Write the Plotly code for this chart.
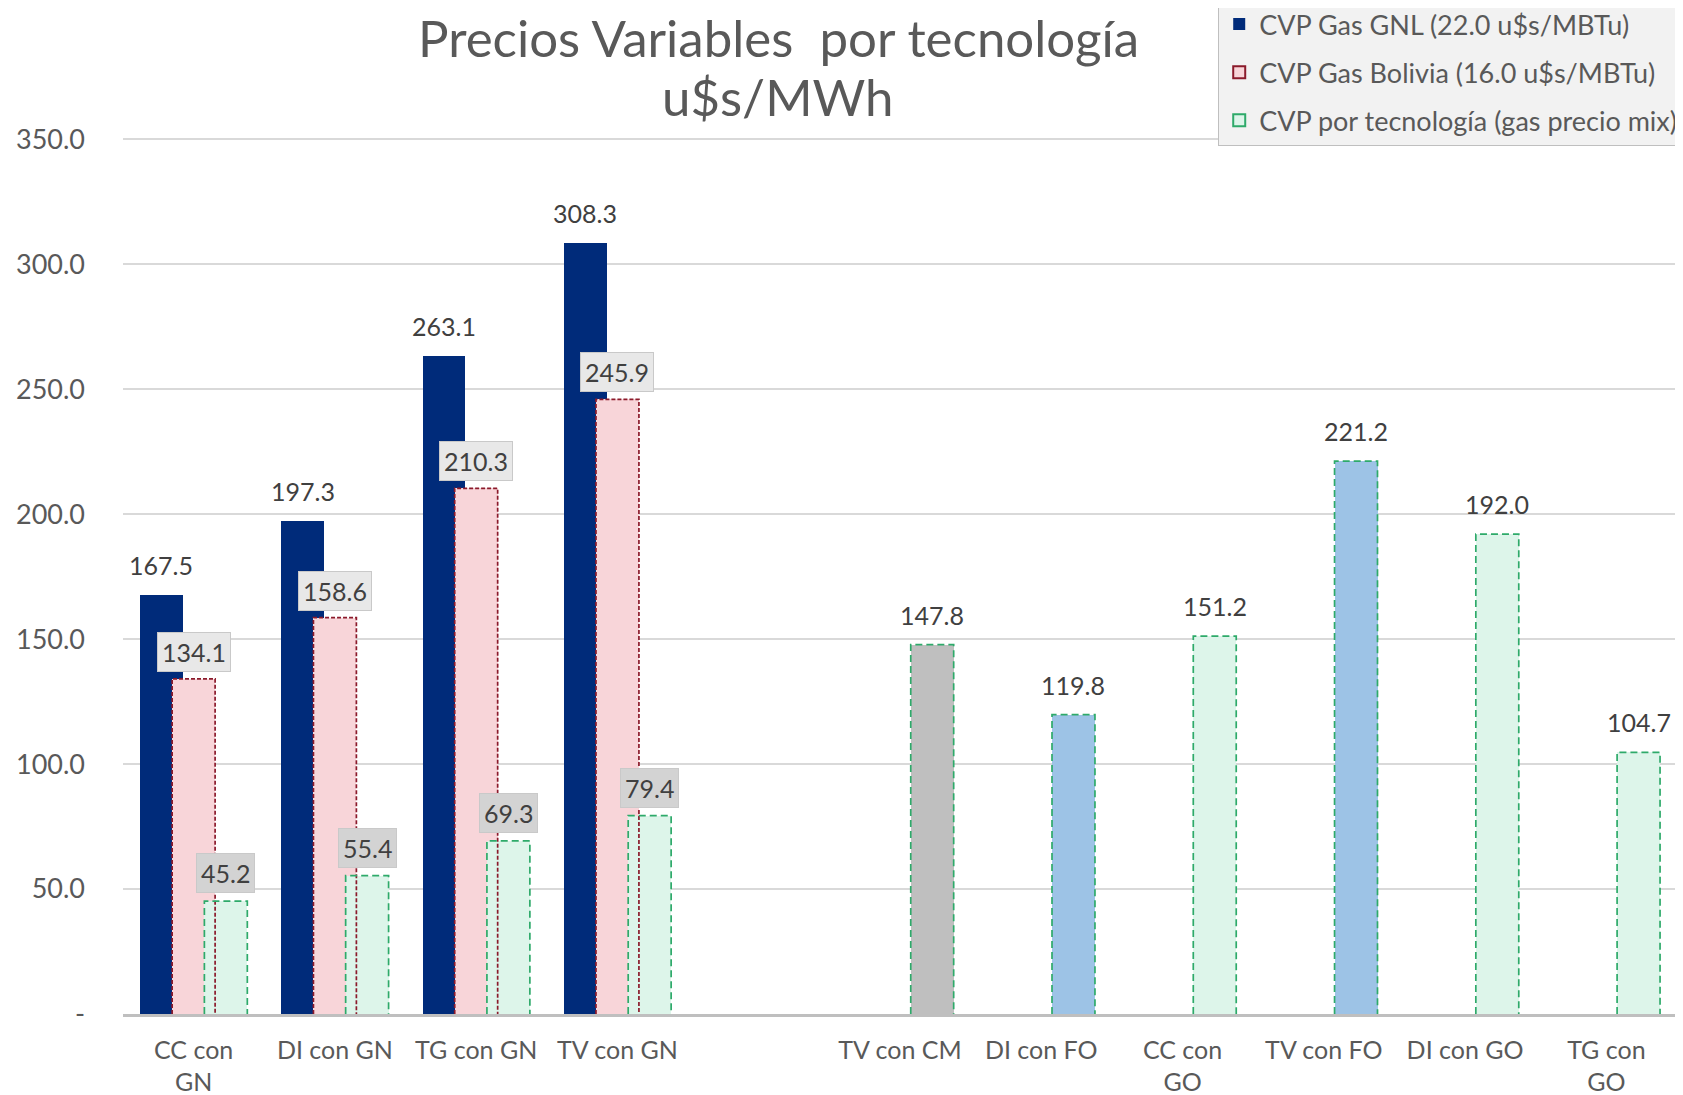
import plotly.graph_objects as go

categories = ["CC con<br>GN", "DI con GN", "TG con GN", "TV con GN", "",
              "TV con CM", "DI con FO", "CC con<br>GO", "TV con FO", "DI con GO", "TG con<br>GO"]
gnl = [167.5, 197.3, 263.1, 308.3, None, None, None, None, None, None, None]
bolivia = [134.1, 158.6, 210.3, 245.9, None, None, None, None, None, None, None]
mix = [45.2, 55.4, 69.3, 79.4, None, 147.8, 119.8, 151.2, 221.2, 192.0, 104.7]
mix_fill = ["#DDF5EA", "#DDF5EA", "#DDF5EA", "#DDF5EA", "#DDF5EA",
            "#BFBFBF", "#9DC3E6", "#DDF5EA", "#9DC3E6", "#DDF5EA", "#DDF5EA"]
series_names = ["CVP Gas GNL (22.0 u$s/MBTu)", "CVP Gas Bolivia (16.0 u$s/MBTu)",
                "CVP por tecnología (gas precio mix)"]
title_lines = ["Precios Variables  por tecnología", "u$s/MWh"]
y_ticks = [0, 50, 100, 150, 200, 250, 300, 350]

FONT = "Lato"
TXT = "#595959"
LBL = "#404040"
NAVY = "#002B7A"
PINK = "#F8D5D9"
DRED = "#8B1A2B"
MINT = "#DDF5EA"
GREEN = "#2EAA6A"
W = 0.304
SHIFT = 0.228
offsets = [-SHIFT - W / 2, -W / 2, SHIFT - W / 2]
xs = list(range(len(categories)))

fig = go.Figure()
fig.add_trace(go.Bar(x=xs, y=gnl, name=series_names[0], width=W, offset=offsets[0], showlegend=False,
                     marker=dict(color=NAVY, line=dict(width=0))))
fig.add_trace(go.Bar(x=xs, y=bolivia, name=series_names[1], width=W, offset=offsets[1], showlegend=False,
                     marker=dict(color=PINK, line=dict(width=0))))


def outline(vals, off, color, dash, name):
    ox, oy = [], []
    for i, v in enumerate(vals):
        if v is None:
            continue
        x0 = i + off
        x1 = x0 + W
        ox += [x0, x0, x1, x1, None]
        oy += [0, v, v, 0, None]
    fig.add_trace(go.Scatter(x=ox, y=oy, mode="lines", showlegend=False, hoverinfo="skip",
                             line=dict(color=color, width=1.7, dash=dash), name=name))


outline(bolivia, offsets[1], DRED, "4px,2px", "bol_outline")
fig.add_trace(go.Bar(x=xs, y=mix, name=series_names[2], width=W, offset=offsets[2], showlegend=False,
                     marker=dict(color=mix_fill, line=dict(width=0))))
outline(mix, offsets[2], GREEN, "7px,4px", "mix_outline")

# legend entries
for nm, fc, lc, lw, grp in [(series_names[0], NAVY, NAVY, 0, "a"),
                            (series_names[1], PINK, DRED, 1.5, "b"),
                            (series_names[2], MINT, GREEN, 1.5, "c")]:
    fig.add_trace(go.Scatter(x=[None], y=[None], mode="markers", name=nm, legendgroup=grp,
                             marker=dict(symbol="square", size=13, color=fc, line=dict(color=lc, width=lw))))

annotations = []
for i, v in enumerate(gnl):
    if v is not None:
        annotations.append(dict(x=i - SHIFT, y=v, text=f"{v:.1f}", showarrow=False,
                                yanchor="bottom", yshift=13, font=dict(family=FONT, size=25, color=LBL)))
for i, v in enumerate(bolivia):
    if v is not None:
        annotations.append(dict(x=i, y=v, text=f"{v:.1f}", showarrow=False, yanchor="bottom",
                                yshift=7, bgcolor="#E8E8E8", bordercolor="#C9C9C9", borderwidth=1,
                                borderpad=4, font=dict(family=FONT, size=25, color=LBL)))
for i, v in enumerate(mix):
    if v is None:
        continue
    if i < 4:
        annotations.append(dict(x=i + SHIFT, y=v, text=f"{v:.1f}", showarrow=False, yanchor="bottom",
                                yshift=8, bgcolor="#D3D3D3", bordercolor="#C9C9C9", borderwidth=1,
                                borderpad=4, font=dict(family=FONT, size=25, color=LBL)))
    else:
        annotations.append(dict(x=i + SHIFT, y=v, text=f"{v:.1f}", showarrow=False,
                                yanchor="bottom", yshift=13, font=dict(family=FONT, size=25, color=LBL)))

# title (two lines), figure is drawn with an 8px page offset
annotations.append(dict(text=title_lines[0], xref="paper", yref="paper",
                        x=(770 - 115) / 1554, y=1 + (130 - 29) / 876, xanchor="center", yanchor="middle",
                        showarrow=False, font=dict(family=FONT, size=51, color=TXT)))
annotations.append(dict(text=title_lines[1], xref="paper", yref="paper",
                        x=(770 - 115) / 1554, y=1 + (130 - 88) / 876, xanchor="center", yanchor="middle",
                        showarrow=False, font=dict(family=FONT, size=51, color=TXT)))

fig.update_layout(
    width=1675, height=1087,
    barmode="overlay",
    plot_bgcolor="white", paper_bgcolor="white",
    margin=dict(l=115, r=6, t=130, b=81, autoexpand=False),
    font=dict(family=FONT, color=TXT),
    legend=dict(xref="paper", yref="paper", x=1.004, y=1 + (130 + 9) / 876, xanchor="right", yanchor="top",
                bgcolor="#F2F2F2", bordercolor="#BFBFBF", borderwidth=1,
                font=dict(family=FONT, size=27, color=TXT), traceorder="grouped", tracegroupgap=10,
                itemsizing="constant"),
    annotations=annotations,
    bargap=0,
)
fig.update_xaxes(tickmode="array", tickvals=xs, ticktext=categories, range=[-0.5, len(categories) - 0.5],
                 showgrid=False, zeroline=False, showline=True, linecolor="#BFBFBF", linewidth=2.5,
                 tickfont=dict(family=FONT, size=25, color=TXT), ticks="", ticklabelstandoff=12,
                 tickangle=0)
fig.update_yaxes(range=[0, 350.5], tickmode="array", tickvals=y_ticks,
                 ticktext=["-" if t == 0 else f"{t:.1f}" for t in y_ticks],
                 showgrid=True, gridcolor="#D9D9D9", gridwidth=1.5, zeroline=False, showline=False,
                 tickfont=dict(family=FONT, size=27, color=TXT), ticklabelstandoff=37)

fig.write_html("out.html")
